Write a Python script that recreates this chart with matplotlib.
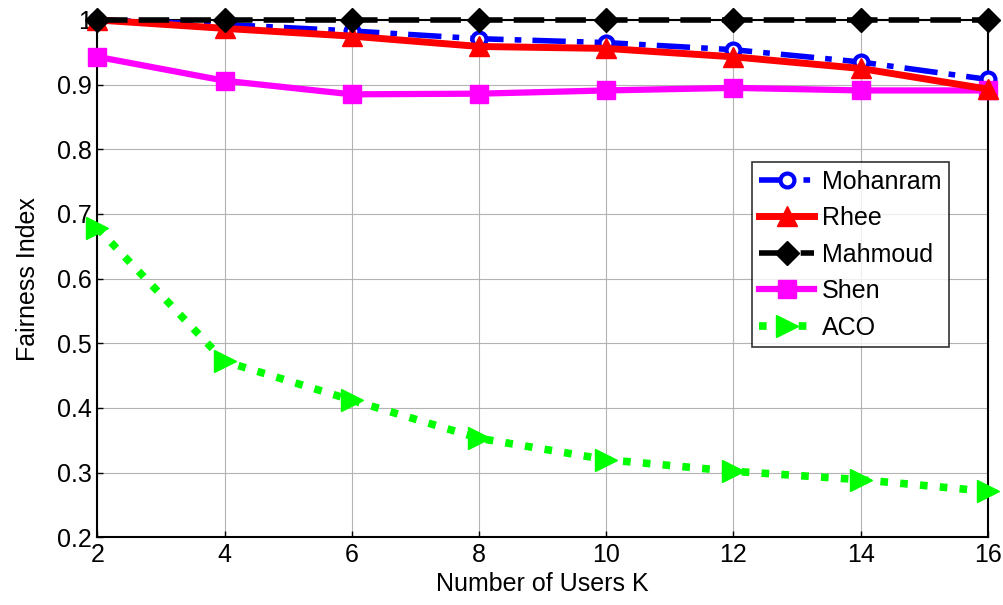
import matplotlib
matplotlib.use('Agg')
import matplotlib.pyplot as plt

# --- Dados ---
usuarios = [2, 4, 6, 8, 10, 12, 14, 16]
mohanram = [1.0, 0.993, 0.983, 0.971, 0.965, 0.954, 0.935, 0.908]
rhee = [1.0, 0.987, 0.975, 0.959, 0.956, 0.943, 0.925, 0.893]
mahmoud = [1.0, 1.0, 1.0, 1.0, 1.0, 1.0, 1.0, 1.0]
shen = [0.943, 0.906, 0.885, 0.886, 0.891, 0.895, 0.891, 0.891]
aco = [0.678, 0.472, 0.412, 0.353, 0.320, 0.302, 0.289, 0.271]

xTicks = [2, 4, 6, 8, 10, 12, 14, 16]
yTicks = [0.2, 0.3, 0.4, 0.5, 0.6, 0.7, 0.8, 0.9, 1]
yTickLabels = ['0.2', '0.3', '0.4', '0.5', '0.6', '0.7', '0.8', '0.9', '1']

plt.rcParams['font.family'] = ['Liberation Sans', 'DejaVu Sans']

fig = plt.figure(figsize=(10.04, 6.05), dpi=100)
ax = fig.add_axes([0.097, 0.112, 0.887, 0.855])

ax.plot(usuarios, mohanram, color='blue', linestyle=(0, (6, 2, 1.2, 2)), linewidth=4,
        marker='o', markersize=10, markerfacecolor='white',
        markeredgecolor='blue', markeredgewidth=3, label='Mohanram',
        zorder=4, clip_on=False)
ax.plot(usuarios, rhee, color='red', linestyle='-', linewidth=5,
        marker='^', markersize=15, label='Rhee', zorder=5, clip_on=False)
ax.plot(usuarios, mahmoud, color='black', linestyle=(0, (5.5, 2)), linewidth=4,
        marker='D', markersize=12, label='Mahmoud', zorder=6, clip_on=False)
ax.plot(usuarios, shen, color='magenta', linestyle='-', linewidth=4.5,
        marker='s', markersize=13, label='Shen', zorder=4, clip_on=False)
ax.plot(usuarios, aco, color='#00ff00', linestyle=(0, (1, 1.6)), linewidth=5.5,
        dash_capstyle='butt', marker='>', markersize=16, label='ACO',
        zorder=4, clip_on=False)

ax.set_xlim(2, 16)
ax.set_ylim(0.2, 1.0)
ax.set_xticks(xTicks)
ax.set_yticks(yTicks)
ax.set_yticklabels(yTickLabels)
ax.tick_params(labelsize=18, direction='in', length=4, width=1, pad=4)
ax.grid(True, color='0.7', linewidth=0.8)
ax.set_axisbelow(True)
for spine in ax.spines.values():
    spine.set_linewidth(1.5)

ax.set_xlabel('Number of Users K', fontsize=18, labelpad=4)
ax.set_ylabel('Fairness Index', fontsize=18, labelpad=12)

leg = ax.legend(loc='upper right', bbox_to_anchor=(0.956, 0.725), fontsize=18,
                frameon=True, fancybox=False, edgecolor='black',
                handlelength=2.2, borderpad=0.3, labelspacing=0.5,
                handletextpad=0.3, borderaxespad=0)
leg.get_frame().set_linewidth(1.2)

plt.savefig('out.png', dpi=100)
